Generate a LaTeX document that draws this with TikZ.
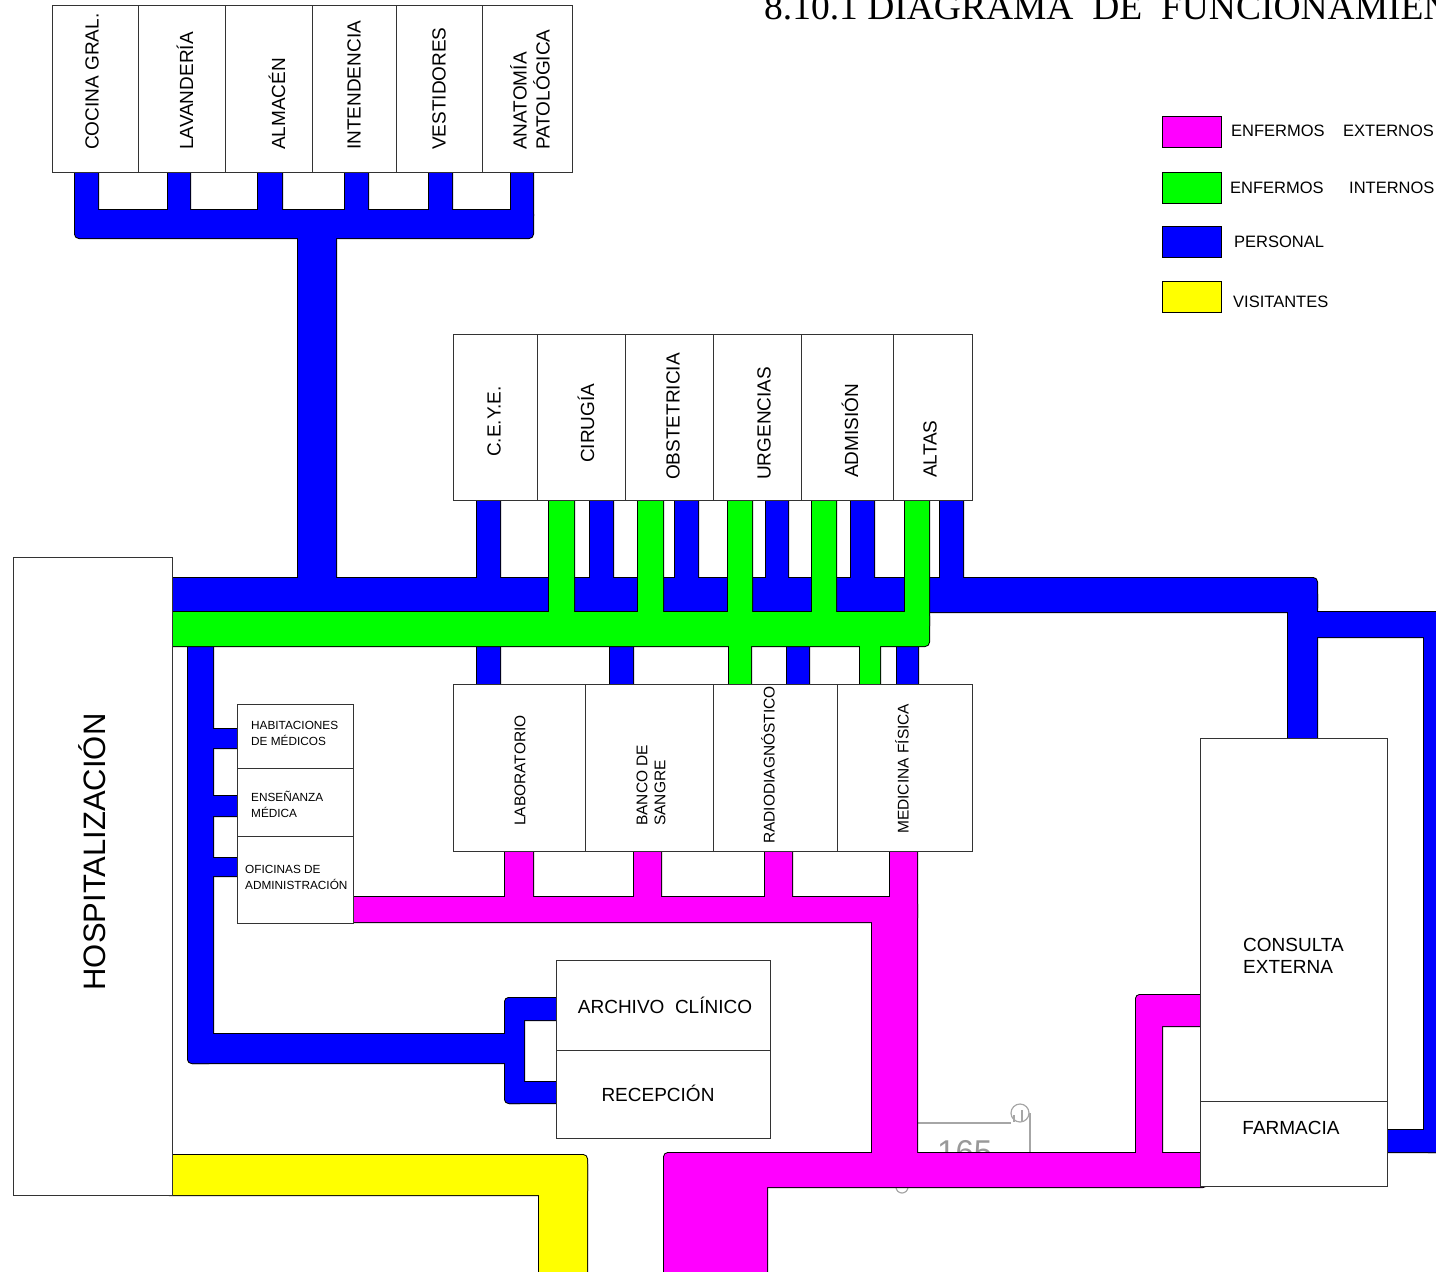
\documentclass[tikz,border=0pt]{standalone}
\usepackage{fontspec}
\setmainfont{Liberation Sans}
\newfontfamily\titulofont{Liberation Serif}
\definecolor{rosa}{RGB}{255,0,255}
\definecolor{verde}{RGB}{0,255,0}
\definecolor{azul}{RGB}{0,0,255}
\definecolor{amarillo}{RGB}{255,255,0}
\tikzset{sala/.style={draw=black!80, fill=white, line width=1pt},
rotulo/.style={font=\fontsize{19}{23}\selectfont, inner sep=0pt},
rotulochico/.style={font=\fontsize{15.5}{18}\selectfont, inner sep=0pt},
nota/.style={font=\fontsize{11.8}{16}\selectfont, inner sep=0pt, align=left},
leyenda/.style={font=\fontsize{16.5}{20}\selectfont, inner sep=0pt, anchor=west}}
% one band of circulation: black edge first, then the colour
\newcommand{\banda}[2]{%
  \foreach \xa/\ya/\xb/\yb in {#2}{\draw[line width=2pt, rounded corners=4pt] (\xa,\ya) rectangle (\xb,\yb);}
  \foreach \xa/\ya/\xb/\yb in {#2}{\fill[#1, rounded corners=4pt] (\xa,\ya) rectangle (\xb,\yb);}
}

\begin{document}
\begin{tikzpicture}[x=1pt, y=-1pt]
        \useasboundingbox (0,0) rectangle (1436,1272);
        \clip (0,0) rectangle (1436,1272);

        % title
        \node[anchor=base west, inner sep=0pt, font=\titulofont\fontsize{37.5}{40}\selectfont] (titulo) at (764,19) {8.10.1 DIAGRAMA\ \ DE\ \ FUNCIONAMIENTO};

        % page mark
        \draw[gray!70, line width=1.2pt] (917,1123) -- (1011,1123);
        \draw[gray!70, line width=1.2pt] (1020,1113) circle (9);
        \draw[gray!70, line width=1.2pt] (1030,1113) -- (1030,1165);
        \draw[gray!70, line width=1.2pt] (1014,1122) -- (1014,1115) (1022,1110) -- (1022,1122);
        \draw[gray!70, line width=1.2pt] (896,1187) arc (180:0:6);
        \node[gray!80, anchor=base west, inner sep=0pt, font=\fontsize{33}{36}\selectfont] (folio) at (937,1163) {165};

        % personal
        \banda{azul}{75/165/98/220, 168/165/190/220, 258/165/282/220, 345/165/368/220, 429/165/452/220, 511/165/533/220,
          75/210/533/238, 298/230/336/600, 165/578/1317/612,
          477/495/500/590, 590/495/613/590, 675/495/698/590, 766/495/788/590, 851/495/874/590, 940/495/963/590,
          1288/590/1317/745, 1288/612/1446/637, 1424/620/1446/1152, 1380/1130/1446/1152,
          477/600/500/690, 610/600/633/690, 787/600/809/690, 897/600/918/690,
          188/600/213/1063, 205/729/242/748, 205/796/242/816, 205/858/242/876,
          188/1034/523/1063, 505/998/524/1103, 505/998/562/1020, 505/1082/562/1103}

        % enfermos internos
        \banda{verde}{549/495/574/630, 638/495/663/630, 728/495/752/630, 812/495/836/630, 905/495/929/630,
          165/612/929/646, 729/630/751/690, 860/630/880/690}

        % enfermos externos
        \banda{rosa}{505/845/533/905, 634/845/661/905, 765/845/792/905, 890/845/917/905,
          345/897/917/922, 872/900/917/1170, 664/1153/1207/1187, 664/1160/767/1285,
          1136/995/1162/1170, 1136/995/1207/1026}

        % visitantes
        \banda{amarillo}{165/1155/587/1195, 539/1160/587/1285}

        % rooms
        \foreach \xa/\xb in {52/138, 138/225, 225/312, 312/396, 396/482, 482/572}{
            \draw[sala] (\xa,5) rectangle (\xb,172);
        }
        \foreach \xa/\xb in {453/537, 537/625, 625/713, 713/801, 801/893, 893/972}{
            \draw[sala] (\xa,334) rectangle (\xb,500);
        }
        \foreach \xa/\xb in {453/585, 585/713, 713/837, 837/972}{
            \draw[sala] (\xa,684) rectangle (\xb,851);
        }
        \foreach \ya/\yb in {704/768, 768/836, 836/923}{
            \draw[sala] (237,\ya) rectangle (353,\yb);
        }
        \draw[sala] (13,557) rectangle (172,1195);
        \draw[sala] (556,960) rectangle (770,1050);
        \draw[sala] (556,1050) rectangle (770,1138);
        \draw[sala] (1200,738) rectangle (1387,1101);
        \draw[sala] (1200,1101) rectangle (1387,1186);

        % labels, general services
        \node[rotulo, rotate=90, anchor=west] (cocina) at (92,150) {COCINA GRAL.};
        \node[rotulo, rotate=90, anchor=west] (lavanderia) at (185,150) {LAVANDERÍA};
        \node[rotulo, rotate=90, anchor=west] (almacen) at (277,150) {ALMACÉN};
        \node[rotulo, rotate=90, anchor=west] (intendencia) at (354,150) {INTENDENCIA};
        \node[rotulo, rotate=90, anchor=west] (vestidores) at (439,150) {VESTIDORES};
        \node[rotulo, rotate=90, anchor=west, align=left] (anatomia) at (530,150) {ANATOMÍA\\PATOLÓGICA};

        % labels, upper row
        \node[rotulo, rotate=90, anchor=west] (ceye) at (494,457) {C.E.Y.E.};
        \node[rotulo, rotate=90, anchor=west] (cirugia) at (586,463) {CIRUGÍA};
        \node[rotulo, rotate=90, anchor=west] (obstetricia) at (673,480) {OBSTETRICIA};
        \node[rotulo, rotate=90, anchor=west] (urgencias) at (764,480) {URGENCIAS};
        \node[rotulo, rotate=90, anchor=west] (admision) at (850,478) {ADMISIÓN};
        \node[rotulo, rotate=90, anchor=west] (altas) at (930,478) {ALTAS};

        % labels, lower row
        \node[rotulochico, rotate=90, anchor=west] (laboratorio) at (520,826) {LABORATORIO};
        \node[rotulochico, rotate=90, anchor=west, align=left] (banco) at (651,826) {BANCO DE\\SANGRE};
        \node[rotulochico, rotate=90, anchor=west] (radio) at (768,844) {RADIODIAGNÓSTICO};
        \node[rotulochico, rotate=90, anchor=west] (medicina) at (902,834) {MEDICINA FÍSICA};

        % labels, the rest
        \node[font=\fontsize{31}{34}\selectfont, inner sep=0pt, rotate=90] (hospital) at (92,852) {HOSPITALIZACIÓN};
        \node[nota, anchor=west] (habitaciones) at (251,733) {HABITACIONES\\DE MÉDICOS};
        \node[nota, anchor=west] (ensenanza) at (251,804) {ENSEÑANZA\\MÉDICA};
        \node[nota, anchor=west] (oficinas) at (245,877) {OFICINAS DE\\ADMINISTRACIÓN};
        \node[rotulo] (archivo) at (665,1005) {ARCHIVO\ \ CLÍNICO};
        \node[rotulo] (recepcion) at (658,1093) {RECEPCIÓN};
        \node[rotulo, anchor=west, align=left, font=\fontsize{19}{22}\selectfont] (consulta) at (1243,956) {CONSULTA\\EXTERNA};
        \node[rotulo] (farmacia) at (1291,1128) {FARMACIA};

        % legend
        \foreach \y/\c in {116/rosa, 172/verde, 226/azul, 281/amarillo}{
            \draw[line width=1pt, fill=\c] (1162,\y) rectangle (1221,\y+31);
        }
        \node[leyenda] (externos) at (1231,131) {ENFERMOS\hspace{18.5pt}EXTERNOS};
        \node[leyenda] (internos) at (1230,188) {ENFERMOS\hspace{25.5pt}INTERNOS};
        \node[leyenda] (personal) at (1234,242) {PERSONAL};
        \node[leyenda] (visitantes) at (1233,302) {VISITANTES};

    \end{tikzpicture}
\end{document}
